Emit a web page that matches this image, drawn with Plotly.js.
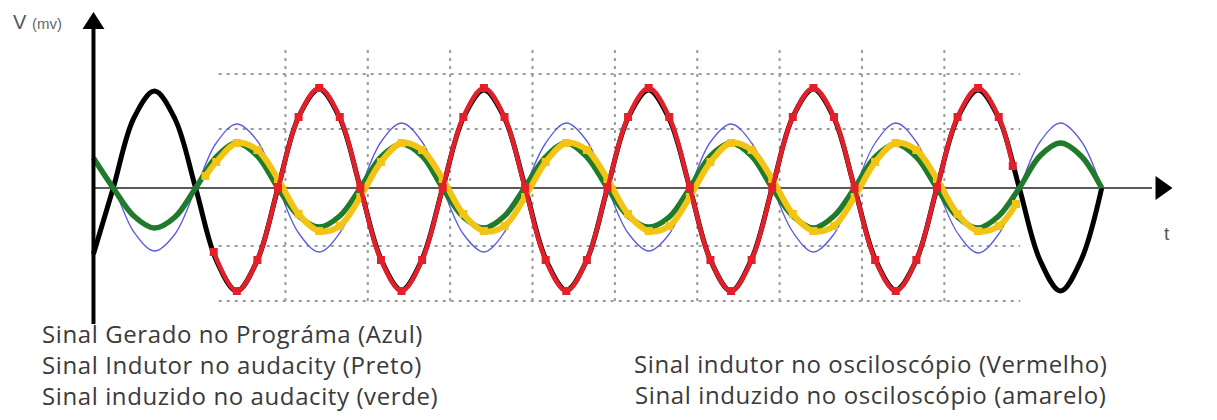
<!DOCTYPE html>
<html><head><meta charset="utf-8">
<script src="https://cdn.plot.ly/plotly-3.0.1.min.js"></script>
<style>html,body{margin:0;padding:0;background:#fff}#chart{width:1217px;height:420px}</style>
</head><body><div id="chart"></div>
<script>
// time in ms, voltage in mV
const timeMs = [0, 2.4, 4.9, 7.4, 9.9, 12.4, 14.9, 17.4, 19.9, 22.4, 24.9, 27.4, 29.9, 32.4, 34.9, 37.4, 39.9, 42.4, 44.9, 47.4, 49.9, 52.4, 54.9, 57.4, 59.9, 62.4, 64.9, 67.4, 69.9, 72.4, 74.9, 77.4, 79.9, 82.4, 84.9, 87.4, 89.9, 92.4, 94.9, 97.4, 99.9, 102.4, 104.9, 107.4, 109.9, 112.4, 114.9, 117.4, 119.9, 122.4];
const blueGenerated = [27, 0, -44, -63, -46, -1, 45, 64, 47, 1, -45, -64, -45, 0, 46, 65, 46, -1, -46, -64, -44, 1, 45, 65, 47, 0, -45, -63, -46, 0, 46, 64, 45, 1, -44, -64, -46, -1, 45, 65, 46, 0, -45, -65, -46, 0, 46, 65, 47, 0];
const blackInductorAudacity = [-66, 0, 70, 97, 69, 0, -72, -103, -72, 0, 71, 99, 70, 0, -71, -102, -71, 0, 70, 98, 70, 1, -71, -102, -72, 0, 70, 98, 69, 0, -72, -103, -71, 0, 71, 99, 70, 0, -71, -102, -72, 0, 70, 98, 70, 0, -72, -103, -72, 0];
const greenInducedAudacity = [30, 0, -28, -40, -29, 0, 31, 45, 32, 0, -28, -39, -28, 0, 31, 44, 32, 0, -29, -40, -28, 1, 31, 45, 31, 0, -28, -39, -29, 0, 32, 45, 32, 0, -28, -40, -28, 0, 31, 44, 31, 0, -29, -40, -28, 0, 32, 45, 32, 0];
const redTimeMs = [14.6, 17.4, 19.9, 22.4, 24.9, 27.4, 29.9, 32.4, 34.9, 37.4, 39.9, 42.4, 44.9, 47.4, 49.9, 52.4, 54.9, 57.4, 59.9, 62.4, 64.9, 67.4, 69.9, 72.4, 74.9, 77.4, 79.9, 82.4, 84.9, 87.4, 89.9, 92.4, 94.9, 97.4, 99.9, 102.4, 104.9, 107.4, 109.9, 111.6];
const redInductorScope = [-64, -103, -72, 0, 71, 100, 71, 0, -72, -103, -72, 0, 71, 100, 71, 0, -72, -103, -72, 0, 71, 100, 71, 0, -72, -103, -72, 0, 71, 100, 71, 0, -72, -103, -72, 0, 71, 100, 71, 22];
const yellowTimeMs = [13.6, 14.9, 17.4, 19.9, 22.4, 24.9, 27.4, 29.9, 32.4, 34.9, 37.4, 39.9, 42.4, 44.9, 47.4, 49.9, 52.4, 54.9, 57.4, 59.9, 62.4, 64.9, 67.4, 69.9, 72.4, 74.9, 77.4, 79.9, 82.4, 84.9, 87.4, 89.9, 92.4, 94.9, 97.4, 99.9, 102.4, 104.9, 107.4, 109.9, 112.0];
const yellowInducedScope = [12, 26, 45, 38, 9, -26, -43, -38, -9, 26, 45, 38, 9, -26, -43, -38, -9, 26, 45, 38, 9, -26, -43, -38, -9, 26, 45, 38, 9, -26, -43, -38, -9, 26, 45, 38, 9, -26, -43, -38, -16];
// oscilloscope screen grid
const gridTimesMs = [23.3, 33.3, 43.3, 53.3, 63.3, 73.3, 83.3, 93.3, 103.3];
const gridLevelsMv = [114, 59, -58, -113];
const legendLeft = ["Sinal Gerado no Prográma (Azul)", "Sinal Indutor no audacity (Preto)", "Sinal induzido no audacity (verde)"];
const legendRight = ["Sinal indutor no osciloscópio (Vermelho)", "Sinal induzido no osciloscópio (amarelo)"];

// layout geometry (pixels)
const W = 1217, H = 420;
const plotL = 76.52, plotR = 1175, plotT = 8, plotB = 324;
const px = x => (x - plotL) / (plotR - plotL);
const py = y => (plotB - y) / (plotB - plotT);

const traces = [
  {x: timeMs, y: blueGenerated, mode: 'lines', line: {color: '#5a5ae0', width: 1.3, shape: 'spline'}},
  {x: timeMs, y: blackInductorAudacity, mode: 'lines', line: {color: '#000000', width: 5, shape: 'spline'}},
  {x: timeMs, y: greenInducedAudacity, mode: 'lines', line: {color: '#1f7a2c', width: 5.5, shape: 'spline'}},
  {x: yellowTimeMs, y: yellowInducedScope, mode: 'lines+markers', line: {color: '#f3c414', width: 6, shape: 'spline'}, marker: {symbol: 'square', size: 8, color: '#f3c414'}},
  {x: redTimeMs, y: redInductorScope, mode: 'lines+markers', line: {color: '#e3202a', width: 4.5, shape: 'spline'}, marker: {symbol: 'square', size: 8, color: '#e3202a'}}
];

const gridLine = {color: '#9a9a9a', width: 2, dash: '3px,5px'};
const shapes = [];
gridTimesMs.forEach(t => shapes.push({type: 'line', xref: 'x', yref: 'y', x0: t, x1: t, y0: -113, y1: 140, layer: 'below', line: gridLine}));
gridLevelsMv.forEach(v => shapes.push({type: 'line', xref: 'x', yref: 'y', x0: 15.2, x1: 112.5, y0: v, y1: v, layer: 'below', line: gridLine}));
// x axis line + arrow
shapes.push({type: 'line', xref: 'x', yref: 'y', x0: 0, x1: 128.5, y0: 0, y1: 0, layer: 'below', line: {color: '#5a5a5a', width: 2}});
shapes.push({type: 'path', xref: 'x', yref: 'y', xsizemode: 'pixel', ysizemode: 'pixel', xanchor: 131, yanchor: 0, path: 'M0,0 L-17,12 L-17,-12 Z', fillcolor: '#000', line: {width: 0}});
// y axis line + arrow
shapes.push({type: 'line', xref: 'x', yref: 'y', x0: 0, x1: 0, y0: -136, y1: 160, line: {color: '#000', width: 4}});
shapes.push({type: 'path', xref: 'x', yref: 'y', xsizemode: 'pixel', ysizemode: 'pixel', xanchor: 0, yanchor: 176, path: 'M0,0 L-11,-17 L11,-17 Z', fillcolor: '#000', line: {width: 0}});

const spaced = s => "<span style='letter-spacing:0.6px'>" + s + "</span>";
const legendFont = {family: 'Open Sans', size: 24, color: '#3a3a3a'};
const annotations = [
  {xref: 'paper', yref: 'paper', x: px(10), y: py(22), xanchor: 'left', yanchor: 'middle', showarrow: false,
   text: "V <span style='font-size:15px;color:#666'>(mv)</span>", font: {family: 'Liberation Sans', size: 20, color: '#555'}},
  {xref: 'paper', yref: 'paper', x: px(1167), y: py(233), xanchor: 'center', yanchor: 'middle', showarrow: false,
   text: 't', font: {family: 'Liberation Sans', size: 19, color: '#555'}},
  {xref: 'paper', yref: 'paper', x: px(40), y: py(364), xanchor: 'left', yanchor: 'middle', align: 'left', showarrow: false,
   text: legendLeft.map(spaced).join('<br>'), font: legendFont},
  {xref: 'paper', yref: 'paper', x: px(871), y: py(379), xanchor: 'center', yanchor: 'middle', align: 'center', showarrow: false,
   text: legendRight.map(spaced).join('<br>'), font: legendFont}
];

const layout = {
  width: W, height: H,
  margin: {l: plotL, r: W - plotR, t: plotT, b: H - plotB, pad: 0},
  paper_bgcolor: '#fff', plot_bgcolor: '#fff',
  showlegend: false,
  xaxis: {range: [-2, 131.3], visible: false, fixedrange: true},
  yaxis: {range: [-136, 180], visible: false, fixedrange: true},
  shapes: shapes,
  annotations: annotations
};
Plotly.newPlot('chart', traces, layout, {staticPlot: true, displayModeBar: false});
</script>
</body></html>
